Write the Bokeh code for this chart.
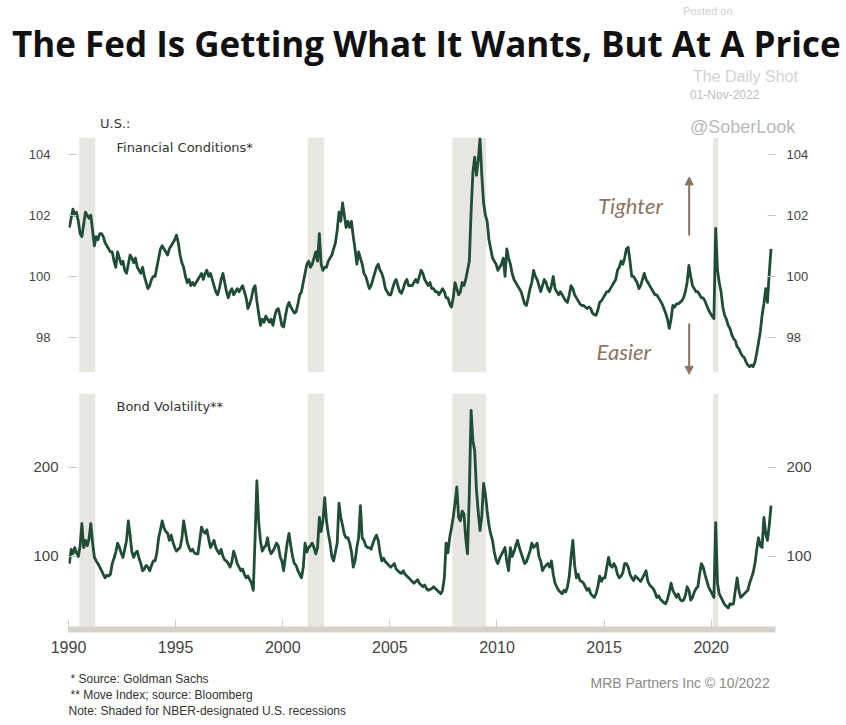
from bokeh.plotting import figure
from bokeh.layouts import column
from bokeh.models import Range1d, LinearAxis, FixedTicker, Arrow, NormalHead, Label, Div
from bokeh.core.properties import value
from bokeh.embed import file_html
from bokeh.resources import INLINE

# ---------------- data (monthly, Jan 1990 - Oct 2022) ----------------
start_year = 1990
fin_conditions = [
    101.6, 101.9, 102.2, 102.0, 102.1, 101.8, 101.4, 101.3, 101.7, 102.1, 102.0, 101.9,
    102.0, 101.5, 101.0, 101.3, 101.2, 101.4, 101.4, 101.3, 101.1, 101.0, 100.9, 100.8,
    100.8, 100.5, 100.3, 100.8, 100.6, 100.4, 100.5, 100.2, 100.1, 100.4, 100.7, 100.6,
    100.45, 100.6, 100.3, 100.2, 100.1, 100.3, 100.0, 99.8, 99.6, 99.7, 99.9, 100.0,
    100.0, 100.3, 100.6, 100.9, 101.0, 100.9, 100.8, 100.7, 100.9, 101.0, 101.1, 101.2,
    101.35, 101.1, 100.7, 100.45, 100.3, 100.0, 99.8, 99.9, 99.7, 99.8, 99.7, 99.8,
    99.9, 100.0, 100.1, 99.9, 100.1, 100.2, 100.0, 100.1, 99.9, 99.7, 99.5, 99.4,
    99.6, 99.9, 100.1, 99.8, 99.5, 99.3, 99.5, 99.6, 99.4, 99.5, 99.6, 99.5,
    99.6, 99.7, 99.5, 99.3, 98.95, 99.1, 99.3, 99.6, 99.7, 99.2, 98.8, 98.4,
    98.6, 98.5, 98.7, 98.6, 98.5, 98.6, 98.4, 98.7, 98.9, 98.95, 98.7, 98.4,
    98.35, 98.7, 99.0, 99.15, 99.0, 98.9, 98.8, 98.85, 99.1, 99.4, 99.5, 99.8,
    100.1, 100.4, 100.5, 100.3, 100.4, 100.6, 100.8, 100.5, 101.4, 100.4, 100.2, 100.3,
    100.3, 100.5, 100.6, 100.7, 100.9, 101.1, 101.5, 102.1, 101.8, 102.4, 102.0, 101.6,
    101.8, 101.6, 101.8, 101.3, 100.9, 100.4, 100.8, 100.6, 100.4, 100.1, 100.0, 99.8,
    99.6, 99.7, 99.9, 100.1, 100.3, 100.4, 100.2, 100.1, 99.9, 99.6, 99.5, 99.4,
    99.4, 99.6, 99.8, 99.9, 99.7, 99.5, 99.45, 99.6, 99.8, 99.9, 99.7, 99.7,
    99.7, 99.8, 99.9, 99.8, 100.0, 100.2, 100.1, 99.9, 99.8, 99.7, 99.8, 99.6,
    99.6, 99.5, 99.5, 99.4, 99.5, 99.6, 99.5, 99.3, 99.3, 99.1, 99.0, 99.3,
    99.8, 99.6, 99.4, 99.5, 99.8, 99.7, 99.9, 100.2, 100.5, 102.1, 103.4, 103.9,
    103.3, 103.8, 104.5, 103.3, 102.4, 102.0, 101.8, 101.2, 100.9, 100.6, 100.5, 100.4,
    100.2, 100.3, 100.4, 100.6, 100.0, 100.9, 100.6, 100.4, 100.1, 99.9, 99.8, 99.7,
    99.6, 99.5, 99.3, 99.1, 99.05, 99.3, 99.6, 99.8, 100.2, 100.0, 99.9, 99.7,
    99.5, 99.7, 99.9, 99.8, 99.6, 99.5, 99.7, 100.0, 99.6, 99.5, 99.4, 99.5,
    99.4, 99.3, 99.2, 99.15, 99.4, 99.7, 99.6, 99.4, 99.3, 99.2, 99.1, 99.05,
    99.05, 99.0, 98.95, 99.0, 98.95, 98.8, 98.75, 98.73, 98.9, 99.15, 99.2, 99.3,
    99.4, 99.5, 99.5, 99.6, 99.7, 99.8, 99.9, 100.2, 100.3, 100.5, 100.4, 100.6,
    100.9, 100.95, 100.5, 100.0, 100.0, 99.9, 99.8, 99.6, 99.7, 99.9, 100.1, 99.9,
    99.8, 99.7, 99.6, 99.5, 99.4, 99.4, 99.3, 99.2, 99.1, 98.95, 98.8, 98.6,
    98.3, 98.6, 99.05, 99.0, 99.1, 99.1, 99.15, 99.2, 99.3, 99.5, 99.8, 100.36,
    100.0, 99.7, 99.6, 99.5, 99.5, 99.4, 99.3, 99.3, 99.2, 99.05, 98.9, 98.8,
    98.7, 98.62, 101.57, 100.2, 99.8, 99.5, 99.0, 98.73, 98.6, 98.4, 98.3, 98.1,
    97.97, 97.9, 97.7, 97.64, 97.5, 97.4, 97.35, 97.2, 97.1, 97.05, 97.1, 97.05,
    97.2, 97.5, 97.84, 98.2, 98.73, 99.1, 99.6, 99.15, 100.1, 100.9,
]
bond_volatility = [
    92, 108, 103, 110, 104, 100, 112, 137, 110, 118, 112, 120,
    137, 115, 99, 95, 92, 88, 84, 80, 76, 79, 78, 80,
    92, 98, 105, 115, 110, 104, 99, 108, 118, 140, 124, 105,
    99, 104, 106, 98, 92, 84, 86, 90, 88, 84, 90, 95,
    95, 104, 121, 130, 140, 132, 128, 126, 118, 124, 116, 110,
    106, 108, 110, 120, 140, 128, 116, 110, 106, 108, 104, 103,
    103, 118, 133, 128, 126, 130, 120, 110, 114, 118, 110, 106,
    103, 108, 100, 96, 95, 92, 88, 94, 106, 100, 92, 88,
    84, 86, 80, 76, 78, 74, 70, 62, 120, 185, 140, 118,
    106, 110, 112, 121, 108, 103, 106, 110, 115, 112, 100, 95,
    84, 100, 115, 126, 112, 100, 92, 90, 84, 80, 76, 88,
    115, 105, 110, 112, 115, 110, 103, 110, 144, 128, 140, 166,
    140, 126, 115, 100, 95, 105, 115, 160, 144, 135, 125, 121,
    121, 115, 105, 88, 95, 110, 121, 157, 121, 118, 112, 110,
    110, 108, 115, 120, 124, 118, 104, 95, 98, 94, 92, 90,
    88, 90, 92, 86, 84, 82, 81, 84, 80, 78, 76, 74,
    72, 70, 72, 74, 70, 68, 66, 68, 64, 62, 63, 64,
    66, 64, 62, 60, 58, 62, 76, 115, 104, 121, 132, 144,
    160, 178, 144, 140, 151, 148, 120, 103, 170, 264, 230, 219,
    175, 150, 129, 145, 182, 170, 151, 135, 125, 118, 105, 96,
    92, 98, 102, 106, 110, 94, 84, 110, 100, 105, 112, 118,
    110, 104, 98, 92, 94, 100, 106, 115, 110, 112, 115, 100,
    95, 84, 88, 90, 92, 88, 95, 80, 70, 66, 62, 60,
    58, 62, 60, 66, 78, 100, 118, 90, 76, 80, 73, 72,
    70, 66, 62, 64, 58, 56, 54, 58, 66, 78, 72, 76,
    76, 88, 99, 90, 88, 92, 88, 80, 76, 78, 82, 92,
    92, 88, 80, 76, 73, 78, 76, 74, 72, 76, 80, 84,
    72, 68, 66, 64, 60, 54, 56, 52, 50, 48, 47, 52,
    60, 70, 62, 58, 54, 58, 52, 50, 51, 56, 66, 62,
    51, 54, 60, 64, 66, 80, 92, 88, 80, 73, 66, 62,
    58, 54, 138, 70, 58, 54, 50, 46, 44, 42, 47, 46,
    47, 62, 76, 62, 54, 56, 58, 60, 62, 70, 76, 82,
    92, 108, 121, 112, 110, 144, 126, 118, 135, 157,
]
dates = [start_year + (i + 0.5) / 12 for i in range(len(fin_conditions))]

recession_start = [1990.5, 2001.17, 2007.92, 2020.08]
recession_end = [1991.25, 2001.92, 2009.5, 2020.33]

year_ticks = [1990, 1995, 2000, 2005, 2010, 2015, 2020]
fci_ticks = [98, 100, 102, 104]
vol_ticks = [100, 200]

# ---------------- styles ----------------
W = 846
LEFT, RIGHT = 68, 71
GREEN = "#1f4d36"
SHADE = "#e8e6e1"
BROWN = "#8c7463"
AX_FONT = "Liberation Sans"
LBL_FONT = "DejaVu Sans"

x_range = Range1d(1990, 2023)


def style_y(ax, ticks, size, standoff):
    ax.ticker = FixedTicker(ticks=ticks)
    ax.axis_line_color = None
    ax.major_tick_in = 8
    ax.major_tick_out = 0
    ax.minor_tick_line_color = None
    ax.major_tick_line_color = "#c4c4c4"
    ax.major_label_text_font = AX_FONT
    ax.major_label_text_font_size = size
    ax.major_label_text_color = "#444444"
    ax.major_label_standoff = standoff


def base(p):
    p.grid.visible = False
    p.outline_line_color = None
    p.background_fill_color = "white"
    p.border_fill_color = "white"


def span(text, left, center, size, color, font="Liberation Sans", weight="normal"):
    top = center - size / 2
    return (f'<span style="position:absolute;left:{left}px;top:{top}px;'
            f"font-family:'{font}';font-weight:{weight};font-size:{size}px;"
            f'line-height:{size}px;color:{color};white-space:nowrap;">{text}</span>')


# ---------------- header (HTML text, full width) ----------------
header_html = (
    '<div style="position:relative;width:846px;height:137px;overflow:hidden;background:white;">'
    + span("The Fed Is Getting What It Wants, But At A Price", 12, 43, 35, "#111111",
           font="Open Sans", weight="bold")
    + span("Posted on", 683, 11, 11, "#cfcfcf")
    + span("The Daily Shot", 693, 77, 16, "#d2d2d2")
    + span("01-Nov-2022", 690, 95, 12, "#bdbdbd")
    + span("@SoberLook", 690, 127, 18, "#b9b9b9")
    + span("U.S.:", 100, 123, 13, "#333333", font=LBL_FONT)
    + "</div>"
)
header = Div(text=header_html, width=W, height=137, margin=(0, 0, 0, 0))

# ---------------- top panel: financial conditions ----------------
p1 = figure(width=W, height=245, x_range=x_range, y_range=Range1d(96.86, 104.54),
            x_axis_location=None, min_border_left=LEFT, min_border_right=RIGHT,
            min_border_top=0, min_border_bottom=10,
            output_backend="svg", toolbar_location=None)
base(p1)
p1.quad(left=recession_start, right=recession_end, bottom=96.86, top=104.54,
        fill_color=SHADE, line_color=None)
p1.line(dates, fin_conditions, line_color=GREEN, line_width=2.8, line_join="round")
style_y(p1.yaxis[0], fci_ticks, "13px", 18)
ra1 = LinearAxis()
style_y(ra1, fci_ticks, "13px", 11)
p1.add_layout(ra1, "right")
p1.text(x=[1992.24], y=[104.2], text=["Financial Conditions*"], text_font=value(LBL_FONT),
        text_font_size="13px", text_color="#333333", text_baseline="middle")
p1.text(x=[2014.72], y=[102.32], text=["Tighter"], text_font=value("Lato"),
        text_font_style="italic", text_font_size="22px", text_color=BROWN,
        text_baseline="middle")
p1.text(x=[2014.65], y=[97.55], text=["Easier"], text_font=value("Lato"),
        text_font_style="italic", text_font_size="22px", text_color=BROWN,
        text_baseline="middle")
p1.add_layout(Arrow(x_start=2018.97, y_start=101.34, x_end=2018.97, y_end=103.25,
                    line_color=BROWN, line_width=2,
                    end=NormalHead(size=8, fill_color=BROWN, line_color=BROWN)))
p1.add_layout(Arrow(x_start=2018.97, y_start=98.46, x_end=2018.97, y_end=96.8,
                    line_color=BROWN, line_width=2,
                    end=NormalHead(size=8, fill_color=BROWN, line_color=BROWN)))

# ---------------- bottom panel: bond volatility ----------------
p2 = figure(width=W, height=280, x_range=x_range, y_range=Range1d(18, 283),
            min_border_left=LEFT, min_border_right=RIGHT,
            min_border_top=11, min_border_bottom=33,
            output_backend="svg", toolbar_location=None)
base(p2)
p2.quad(left=recession_start, right=recession_end, bottom=18, top=283,
        fill_color=SHADE, line_color=None)
p2.line(dates, bond_volatility, line_color=GREEN, line_width=2.8, line_join="round")
style_y(p2.yaxis[0], vol_ticks, "15px", 10)
ra2 = LinearAxis()
style_y(ra2, vol_ticks, "15px", 11)
p2.add_layout(ra2, "right")
xa = p2.xaxis[0]
xa.ticker = FixedTicker(ticks=year_ticks)
xa.axis_line_color = "#d6d2ca"
xa.axis_line_width = 6
xa.major_tick_in = 10
xa.major_tick_out = 0
xa.minor_tick_line_color = None
xa.major_tick_line_color = "#cfcfcf"
xa.major_label_text_font = AX_FONT
xa.major_label_text_font_size = "16px"
xa.major_label_text_color = "#444444"
xa.major_label_standoff = 11
p2.text(x=[1992.24], y=[268.5], text=["Bond Volatility**"], text_font=value(LBL_FONT),
        text_font_size="13px", text_color="#333333", text_baseline="middle")

# ---------------- footer (coordinates in page pixels, from y=662) ----------------
p3 = figure(width=W, height=63, x_range=Range1d(LEFT, W - RIGHT), y_range=Range1d(63, 0),
            x_axis_type=None, y_axis_type=None, min_border_left=LEFT,
            min_border_right=RIGHT, min_border_top=0, min_border_bottom=0,
            output_backend="svg", toolbar_location=None)
base(p3)


def note(p, x, y, text, size, color):
    p.add_layout(Label(x=x, y=y, text=text, text_font=AX_FONT, text_font_size=size,
                       text_color=color, text_baseline="middle", text_align="left"))


note(p3, 70, 16, "*  Source: Goldman Sachs", "12px", "#333333")
note(p3, 70, 32, "** Move Index; source: Bloomberg", "12px", "#333333")
note(p3, 68, 48, "Note: Shaded for NBER-designated U.S. recessions", "12px", "#333333")
note(p3, 590, 20, "MRB Partners Inc \u00a9 10/2022", "14px", "#8a8a8a")

layout = column(header, p1, p2, p3, spacing=0)
open("out.html", "w").write(file_html(layout, INLINE))
